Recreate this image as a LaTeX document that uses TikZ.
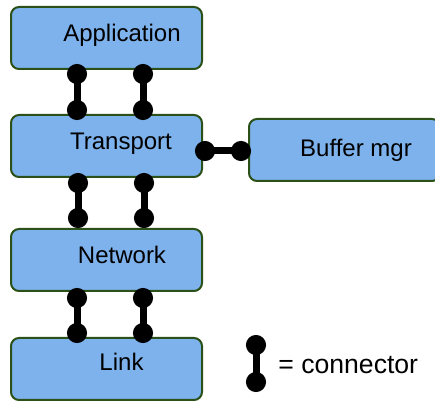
\documentclass[tikz,border=0pt]{standalone}
\usepackage{fontspec}
\setmainfont{Liberation Sans}
\usetikzlibrary{calc,arrows.meta}
\definecolor{boxblue}{HTML}{7DB2EC}
\definecolor{boxedge}{HTML}{2B5018}

\begin{document}
\begin{tikzpicture}[x=0.5pt,y=-0.5pt]
        \tikzstyle{layer}=[draw=boxedge,fill=boxblue,line width=1pt,rounded corners=4pt,minimum width=95.5pt,minimum height=31pt,inner sep=0pt]
        \tikzstyle{lbl}=[anchor=base,inner sep=0pt,font=\fontsize{12}{14}\selectfont]
        \tikzstyle{conn}=[line width=3.5pt,{Circle[length=10pt]}-{Circle[length=10pt]}]
        \useasboundingbox (0,0) rectangle (435,401);
        \node[layer] (app) at (106.5,38) {};
        \node[layer] (trans) at ($(app) + (0,108)$) {};
        \node[layer] (net) at ($(trans) + (0,114)$) {};
        \node[layer] (link) at ($(net) + (0,109)$) {};
        \node[layer] (buf) at ($(trans) + (238,4)$) {};
        % Layer names
        \node[lbl] (appname) at ($(app) + (15.5,3.5)$) {Application};
        \node[lbl] (transname) at ($(trans) + (14.5,3.5)$) {Transport};
        \node[lbl] (netname) at ($(net) + (15.5,3.5)$) {Network};
        \node[lbl] (linkname) at ($(link) + (15,2)$) {Link};
        \node[lbl] (bufname) at ($(buf) + (11.5,6.5)$) {Buffer mgr};
        % Connectors between layers
        \draw[conn] ($(app.south) + (-29.5,-6)$) -- ($(trans.north) + (-29.5,6)$);
        \draw[conn] ($(app.south) + (36.5,-6)$) -- ($(trans.north) + (36.5,6)$);
        \draw[conn] ($(trans.south) + (-28.5,-5)$) -- ($(net.north) + (-28.5,0)$);
        \draw[conn] ($(trans.south) + (37.5,-5)$) -- ($(net.north) + (37.5,0)$);
        \draw[conn] ($(net.south) + (-29.5,-4)$) -- ($(link.north) + (-29.5,6)$);
        \draw[conn] ($(net.south) + (36.5,-4)$) -- ($(link.north) + (36.5,6)$);
        \draw[conn] ($(trans.east) + (-8,5)$) -- ($(buf.west) + (3,1)$);
        % Legend
        \coordinate (keytop) at (256,335);
        \coordinate (keybot) at (256,392);
        \draw[conn] (keytop) -- (keybot);
        \node[anchor=base west,inner sep=0pt,font=\fontsize{13.3}{16}\selectfont] (keytext) at (278,374) {= connector};
\end{tikzpicture}
\end{document}
